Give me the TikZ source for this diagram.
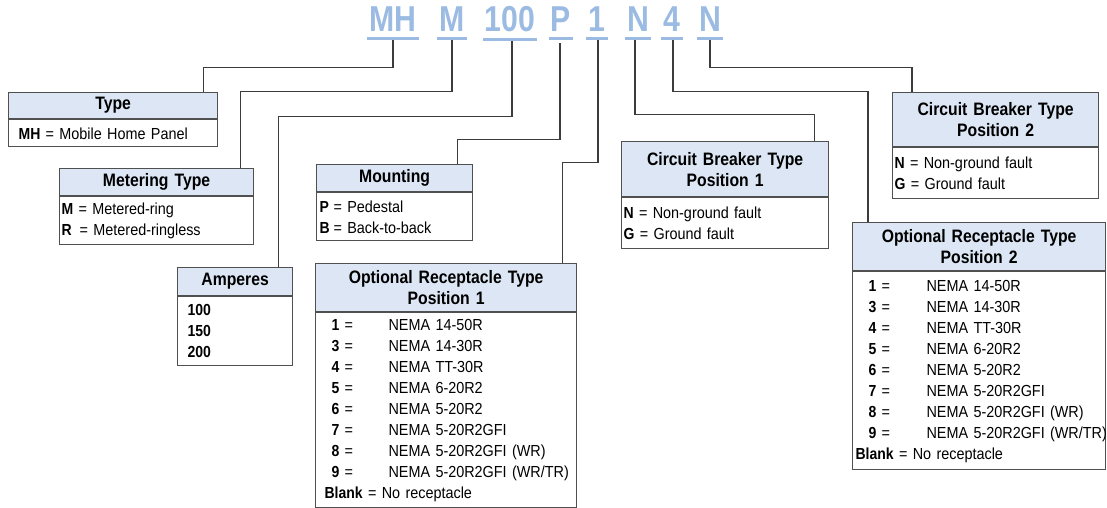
\documentclass[tikz,border=0pt]{standalone}
\usepackage{fontspec}
\setmainfont{Liberation Sans}[FakeStretch=0.9, BoldFeatures={FakeStretch=0.875}]
\newfontfamily\codefam{Liberation Sans}[FakeStretch=0.84]

\definecolor{codeblue}{RGB}{155,187,227}
\definecolor{hdrblue}{RGB}{220,230,244}
\definecolor{boxgray}{RGB}{80,80,80}
\definecolor{wiregray}{RGB}{60,60,60}

\newcommand{\bodyfont}{\fontsize{16}{21}\selectfont}
\newcommand{\hdrfont}{\fontsize{18}{21}\selectfont\bfseries}
\newcommand{\codefont}{\codefam\fontsize{36}{36}\selectfont\bfseries}

\tikzset{
	code/.style={font=\codefont, text=codeblue, inner sep=0pt, anchor=base},
	uline/.style={draw=codeblue, line width=3pt},
	wire/.style={draw=wiregray, line width=1.2pt},
	hdr/.style={draw=boxgray, fill=hdrblue, line width=1.2pt, inner sep=0pt, align=center, font=\hdrfont, anchor=north west},
	bdy/.style={draw=boxgray, fill=white, line width=1.2pt, inner ysep=0pt, align=left, font=\bodyfont, anchor=north west}
}

\begin{document}
\begin{tikzpicture}[x=1pt,y=-1pt]
	\useasboundingbox (0,0) rectangle (1107,508);
	
	% catalogue number
	\node[code] (codeMH) at (393,32) {MH};
	\node[code] (codeM) at (452,32) {M};
	\node[code] (codeAmp) at (510,32) {100};
	\node[code] (codeP) at (561,32) {P};
	\node[code] (codeRa) at (597,32) {1};
	\node[code] (codeNa) at (638,32) {N};
	\node[code] (codeRb) at (672,32) {4};
	\node[code] (codeNb) at (710,32) {N};
	\foreach \c in {codeMH,codeM,codeAmp,codeP,codeRa,codeNa,codeRb,codeNb}
		\draw[uline] ([xshift=-2pt,yshift=-6.5pt]\c.south west) -- ([xshift=2pt,yshift=-6.5pt]\c.south east);
	
	% Type
	\node[hdr, text width=209, minimum height=26] (typeH) at (8,92) {Type};
	\node[bdy, text width=189, inner xsep=10, minimum height=27] (typeB) at (typeH.south west) {\textbf{MH} = Mobile Home Panel};
	
	% Metering type
	\node[hdr, text width=194, minimum height=27] (meterH) at (59,168) {Metering Type};
	\node[bdy, text width=190, inner xsep=2, minimum height=48] (meterB) at (meterH.south west) {\textbf{M} = Metered-ring\\\textbf{R}\ \,= Metered-ringless};
	
	% Amperes
	\node[hdr, text width=115, minimum height=28] (ampH) at (177,267) {Amperes};
	\node[bdy, text width=95, inner xsep=10, minimum height=69] (ampB) at (ampH.south west) {\textbf{100}\\\textbf{150}\\\textbf{200}};
	
	% Mounting
	\node[hdr, text width=156, minimum height=27] (mountH) at (316,164) {Mounting};
	\node[bdy, text width=150, inner xsep=3, minimum height=48] (mountB) at (mountH.south west) {\makebox[14pt][l]{\textbf{P}}= Pedestal\\\makebox[14pt][l]{\textbf{B}}= Back-to-back};
	
	% Optional receptacle, position 1
	\node[hdr, text width=261, minimum height=48] (recaH) at (315,263) {Optional Receptacle Type\\Position 1};
	\node[bdy, text width=243, inner xsep=9, minimum height=195] (recaB) at (recaH.south west) {%
		\begin{tabular}{@{\hspace{7pt}}p{57pt}@{}l}
			\textbf{1} = & NEMA 14-50R\\
			\textbf{3} = & NEMA 14-30R\\
			\textbf{4} = & NEMA TT-30R\\
			\textbf{5} = & NEMA 6-20R2\\
			\textbf{6} = & NEMA 5-20R2\\
			\textbf{7} = & NEMA 5-20R2GFI\\
			\textbf{8} = & NEMA 5-20R2GFI (WR)\\
			\textbf{9} = & NEMA 5-20R2GFI (WR/TR)\\
			\multicolumn{2}{@{}l}{\textbf{Blank} = No receptacle}
		\end{tabular}};
	
	% Circuit breaker, position 1
	\node[hdr, text width=207, minimum height=55] (cbaH) at (621,141) {Circuit Breaker Type\\Position 1};
	\node[bdy, text width=203, inner xsep=2, minimum height=51] (cbaB) at (cbaH.south west) {\textbf{N} = Non-ground fault\\\textbf{G} = Ground fault};
	
	% Circuit breaker, position 2
	\node[hdr, text width=206, minimum height=54] (cbbH) at (892,92) {Circuit Breaker Type\\Position 2};
	\node[bdy, text width=202, inner xsep=2, minimum height=51] (cbbB) at (cbbH.south west) {\textbf{N} = Non-ground fault\\\textbf{G} = Ground fault};
	
	% Optional receptacle, position 2
	\node[hdr, text width=253, minimum height=48] (recbH) at (852,222) {Optional Receptacle Type\\Position 2};
	\node[bdy, text width=247, inner xsep=3, minimum height=198] (recbB) at (recbH.south west) {%
		\begin{tabular}{@{\hspace{13pt}}p{58pt}@{}l}
			\textbf{1} = & NEMA 14-50R\\
			\textbf{3} = & NEMA 14-30R\\
			\textbf{4} = & NEMA TT-30R\\
			\textbf{5} = & NEMA 6-20R2\\
			\textbf{6} = & NEMA 5-20R2\\
			\textbf{7} = & NEMA 5-20R2GFI\\
			\textbf{8} = & NEMA 5-20R2GFI (WR)\\
			\textbf{9} = & NEMA 5-20R2GFI (WR/TR)\\
			\multicolumn{2}{@{}l}{\textbf{Blank} = No receptacle}
		\end{tabular}};
	
	% connectors
	\draw[wire] ([yshift=-8pt]codeMH.south) -- ++(0,27) -| ([xshift=-15pt]typeH.north east);
	\draw[wire] ([yshift=-8pt]codeM.south) -- ++(0,51) -| ([xshift=-14pt]meterH.north east);
	\draw[wire] ([xshift=2pt,yshift=-8pt]codeAmp.south) -- ++(0,76) -| ([xshift=-15pt]ampH.north east);
	\draw[wire] ([xshift=-1pt,yshift=-11pt]codeP.south) -- ++(0,96) -| ([xshift=-16pt]mountH.north east);
	\draw[wire] ([xshift=1pt,yshift=-8pt]codeRa.south) -- ++(0,122) -| ([xshift=-15pt]recaH.north east);
	\draw[wire] ([xshift=-3pt,yshift=-8pt]codeNa.south) -- ++(0,74) -| ([xshift=-15pt]cbaH.north east);
	\draw[wire] ([xshift=1pt,yshift=-8pt]codeRb.south) -- ++(0,51) -| ([xshift=16pt]recbH.north west);
	\draw[wire] ([yshift=-8pt]codeNb.south) -- ++(0,27) -| ([xshift=20pt]cbbH.north west);
\end{tikzpicture}
\end{document}
